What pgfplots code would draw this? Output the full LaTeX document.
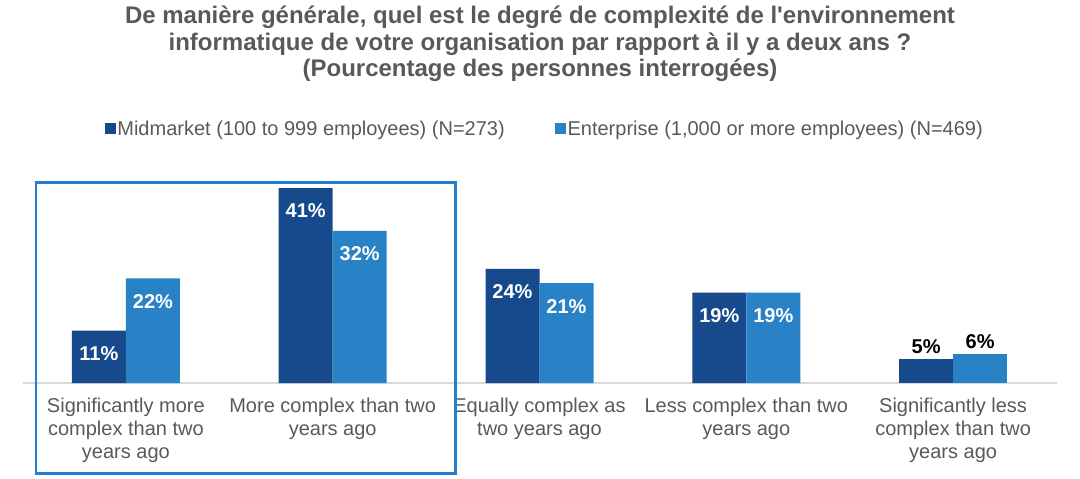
\documentclass[border=0pt]{standalone}
\usepackage{fontspec}
\setmainfont{Liberation Sans}
\usepackage{pgfplots}
\pgfplotsset{compat=1.18}
\definecolor{darkblue}{RGB}{22,74,140}
\definecolor{lightblue}{RGB}{41,130,198}
\definecolor{boxblue}{RGB}{33,128,214}
\definecolor{textgray}{RGB}{89,89,89}
\definecolor{axisgray}{RGB}{217,217,217}
\begin{document}
\begin{tikzpicture}
\useasboundingbox (0,0) rectangle (540pt,239pt);
\node[align=center, font=\bfseries\fontsize{12}{13.25}\selectfont, text=textgray] at (270pt,217pt)
  {De manière générale, quel est le degré de complexité de l\textquotesingle environnement\\
   informatique de votre organisation par rapport à il y a deux ans ?\\
   (Pourcentage des personnes interrogées)};
\begin{axis}[
  at={(11.25pt,47.5pt)}, anchor=south west,
  scale only axis, width=517pt, height=107pt,
  xmin=-0.5, xmax=4.5, ymin=0, ymax=45,
  axis x line*=bottom, axis y line=none,
  x axis line style={draw=axisgray, line width=0.6pt, -},
  xtick={0,1,2,3,4},
  xticklabels={{Significantly more\\complex than two\\years ago},
               {More complex than two\\years ago},
               {Equally complex as\\two years ago},
               {Less complex than two\\years ago},
               {Significantly less\\complex than two\\years ago}},
  xticklabel style={align=center, anchor=north, inner sep=0pt, yshift=-7.5pt,
    font=\fontsize{10}{11.5}\selectfont, text=textgray},
  xtick style={draw=none},
  tick align=inside,
  ytick=\empty,
  clip=false,
  /pgf/number format/assume math mode=true,
  legend style={at={(axis description cs:0.505,1.182)}, anchor=center,
    draw=none, fill=none, legend columns=2,
    font=\fontsize{10}{12}\selectfont, text=textgray,
    nodes={inner sep=1pt},
    /tikz/every even column/.append style={column sep=24pt}},
  legend cell align=left,
]
\addlegendimage{legend image code/.code={\fill[darkblue] (0pt,-1.5pt) rectangle (5pt,3.5pt);}}
\addlegendentry{Midmarket (100 to 999 employees) (N=273)}
\addlegendimage{legend image code/.code={\fill[lightblue] (0pt,-1.5pt) rectangle (5pt,3.5pt);}}
\addlegendentry{Enterprise (1,000 or more employees) (N=469)}

\addplot[ybar, bar width=27pt, bar shift=-13.5pt, fill=darkblue, draw=none, forget plot,
  nodes near coords={\pgfmathprintnumber{\pgfplotspointmeta}\%},
  every node near coord/.append style={font=\bfseries\fontsize{10}{12}\selectfont, text=white, anchor=center, xshift=-13.5pt, yshift=-11.5pt}]
  coordinates {(0,11) (1,41) (2,24) (3,19)};
\addplot[ybar, bar width=27pt, bar shift=13.5pt, fill=lightblue, draw=none, forget plot,
  nodes near coords={\pgfmathprintnumber{\pgfplotspointmeta}\%},
  every node near coord/.append style={font=\bfseries\fontsize{10}{12}\selectfont, text=white, anchor=center, xshift=13.5pt, yshift=-11.5pt}]
  coordinates {(0,22) (1,32) (2,21) (3,19)};
\addplot[ybar, bar width=27pt, bar shift=-13.5pt, fill=darkblue, draw=none, forget plot,
  nodes near coords={\pgfmathprintnumber{\pgfplotspointmeta}\%},
  every node near coord/.append style={font=\bfseries\fontsize{10}{12}\selectfont, text=black, anchor=center, xshift=-13.5pt, yshift=6.5pt}]
  coordinates {(4,5)};
\addplot[ybar, bar width=27pt, bar shift=13.5pt, fill=lightblue, draw=none, forget plot,
  nodes near coords={\pgfmathprintnumber{\pgfplotspointmeta}\%},
  every node near coord/.append style={font=\bfseries\fontsize{10}{12}\selectfont, text=black, anchor=center, xshift=13.5pt, yshift=6.5pt}]
  coordinates {(4,6)};

\draw[boxblue, line width=1.25pt] (axis cs:-0.435,42.2) rectangle (axis cs:1.594,-19.0);
\end{axis}
\end{tikzpicture}
\end{document}
